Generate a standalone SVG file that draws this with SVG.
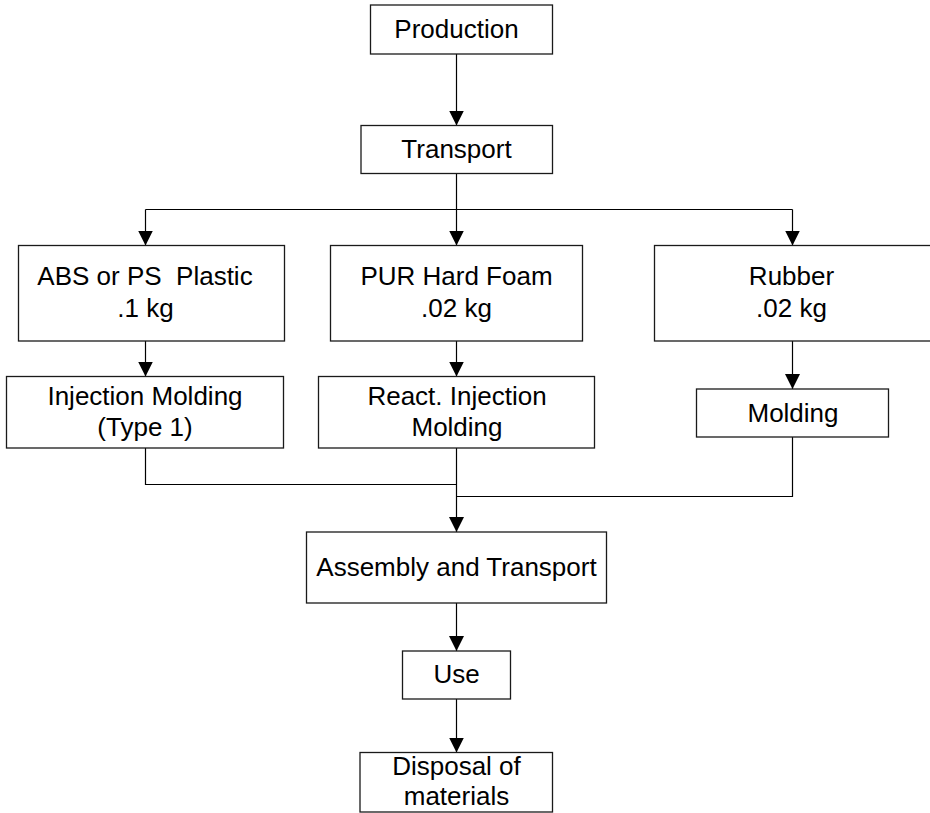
<svg xmlns="http://www.w3.org/2000/svg" width="930" height="813" viewBox="0 0 930 813">
  <style>
    .box { fill: #ffffff; stroke: #1a1a1a; stroke-width: 1.3; }
    .lbl { font-family: "Liberation Sans", Arial, sans-serif; font-size: 26px; fill: #000000; text-anchor: middle; }
    .con { fill: none; stroke: #000000; stroke-width: 1.2; }
    .arr { marker-end: url(#ah); }
  </style>
  <defs>
    <marker id="ah" markerUnits="userSpaceOnUse" markerWidth="15" markerHeight="15" viewBox="0 0 15 15" refX="15" refY="7.5" orient="auto">
      <path d="M0,0 L15,7.5 L0,15 Z" fill="#000000"/>
    </marker>
  </defs>
  <rect width="930" height="813" fill="#ffffff"/>

  <g id="connectors">
    <line class="con arr" x1="456.5" y1="54" x2="456.5" y2="125.5"/>
    <polyline class="con" points="456.5,173.5 456.5,209.5"/>
    <line class="con" x1="145.5" y1="209.5" x2="792.5" y2="209.5"/>
    <line class="con arr" x1="145.5" y1="209.5" x2="145.5" y2="245.5"/>
    <line class="con arr" x1="456.5" y1="209.5" x2="456.5" y2="245.5"/>
    <line class="con arr" x1="792.5" y1="209.5" x2="792.5" y2="245.5"/>
    <line class="con arr" x1="145.5" y1="341" x2="145.5" y2="376.5"/>
    <line class="con arr" x1="456.5" y1="341" x2="456.5" y2="376.5"/>
    <line class="con arr" x1="792.5" y1="341" x2="792.5" y2="389"/>
    <polyline class="con" points="145.5,448 145.5,484.5 456.5,484.5"/>
    <polyline class="con" points="792.5,437 792.5,496.5 456.5,496.5"/>
    <line class="con arr" x1="456.5" y1="448" x2="456.5" y2="532"/>
    <line class="con arr" x1="456.5" y1="603" x2="456.5" y2="651"/>
    <line class="con arr" x1="456.5" y1="699" x2="456.5" y2="752.5"/>
  </g>

  <g id="production">
    <rect class="box" x="370.5" y="5" width="182" height="49"/>
    <text class="lbl" x="456.5" y="37.5">Production</text>
  </g>
  <g id="transport">
    <rect class="box" x="361" y="125.5" width="191.5" height="48"/>
    <text class="lbl" x="456.5" y="157.5">Transport</text>
  </g>
  <g id="abs">
    <rect class="box" x="18.5" y="245.5" width="266" height="95.5"/>
    <text class="lbl" x="145" y="284.5" xml:space="preserve">ABS or PS  Plastic</text>
    <text class="lbl" x="145.5" y="316.5">.1 kg</text>
  </g>
  <g id="pur">
    <rect class="box" x="330.5" y="245.5" width="252" height="95.5"/>
    <text class="lbl" x="456.5" y="284.5">PUR Hard Foam</text>
    <text class="lbl" x="456.5" y="316.5">.02 kg</text>
  </g>
  <g id="rubber">
    <rect class="box" x="654.5" y="245.5" width="280" height="95.5"/>
    <text class="lbl" x="791.5" y="285">Rubber</text>
    <text class="lbl" x="791.5" y="316.5">.02 kg</text>
  </g>
  <g id="injection">
    <rect class="box" x="6.5" y="376.5" width="277" height="71.5"/>
    <text class="lbl" x="145" y="405">Injection Molding</text>
    <text class="lbl" x="145" y="435.5">(Type 1)</text>
  </g>
  <g id="react">
    <rect class="box" x="318.5" y="376.5" width="276" height="71.5"/>
    <text class="lbl" x="457" y="405">React. Injection</text>
    <text class="lbl" x="457" y="435.5">Molding</text>
  </g>
  <g id="molding">
    <rect class="box" x="696.5" y="389" width="192" height="48"/>
    <text class="lbl" x="793" y="422">Molding</text>
  </g>
  <g id="assembly">
    <rect class="box" x="306.5" y="532" width="300" height="71"/>
    <text class="lbl" x="456.5" y="576">Assembly and Transport</text>
  </g>
  <g id="use">
    <rect class="box" x="402.5" y="651" width="108" height="48"/>
    <text class="lbl" x="456.5" y="683">Use</text>
  </g>
  <g id="disposal">
    <rect class="box" x="360" y="752.5" width="192.5" height="59.5"/>
    <text class="lbl" x="456.5" y="775">Disposal of</text>
    <text class="lbl" x="456.5" y="805">materials</text>
  </g>
</svg>
